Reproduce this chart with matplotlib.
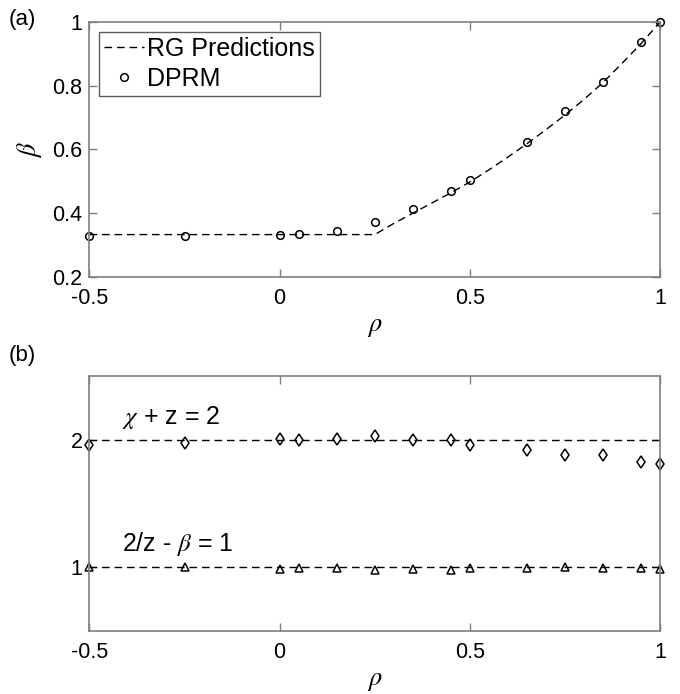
import numpy as np
import matplotlib
matplotlib.use('Agg')
import matplotlib.pyplot as plt

plt.rcParams['font.family'] = ['Liberation Sans', 'DejaVu Sans']
plt.rcParams['mathtext.fontset'] = 'stix'
plt.rcParams['axes.unicode_minus'] = False

# data
rho = [-0.5, -0.25, 0, 0.05, 0.15, 0.25, 0.35, 0.45, 0.5, 0.65, 0.75, 0.85, 0.95, 1.0]
beta_dprm = [0.328, 0.328, 0.333, 0.336, 0.345, 0.374, 0.414, 0.470, 0.504, 0.625, 0.721, 0.811, 0.937, 1.0]

rho_rg = [-0.5, 0.25, 0.30, 0.35, 0.40, 0.45, 0.50, 0.55, 0.60, 0.65, 0.70, 0.75, 0.80, 0.85, 0.90, 0.95, 1.0]
beta_rg = [0.333, 0.333, 0.368, 0.400, 0.432, 0.464, 0.498, 0.536, 0.576, 0.618, 0.662, 0.708, 0.757, 0.810, 0.870, 0.932, 1.0]

chi_plus_z = [1.961, 1.974, 2.005, 2.0, 2.005, 2.026, 1.995, 2.0, 1.961, 1.916, 1.883, 1.877, 1.822, 1.809]
twoz_minus_beta = [1.005, 1.005, 0.99, 0.997, 0.997, 0.98, 0.99, 0.98, 0.997, 0.997, 1.005, 0.997, 0.997, 0.985]

xticks = [-0.5, 0, 0.5, 1]
xticklabels = ['-0.5', '0', '0.5', '1']

fig = plt.figure(figsize=(6.8, 6.94), dpi=100)
ax1 = fig.add_axes([0.1316, 0.6009, 0.839, 0.3674])
ax2 = fig.add_axes([0.1316, 0.0908, 0.839, 0.3674])

frame = '#7f7f7f'
for ax in (ax1, ax2):
    for s in ax.spines.values():
        s.set_color(frame)
        s.set_linewidth(1.2)
    ax.tick_params(direction='in', top=True, right=True, length=6, width=1,
                   color=frame, labelsize=15.5)
    ax.tick_params(axis='x', pad=8)
    ax.tick_params(axis='y', pad=5)
    ax.set_xlim(-0.5, 1)
    ax.set_xticks(xticks)
    ax.set_xticklabels(xticklabels)
    ax.set_xlabel(r'$\rho$', fontsize=19, labelpad=4)

dash = (0, (5.5, 3.5))
ax1.plot(rho_rg, beta_rg, color='k', lw=1, linestyle=dash, label='RG Predictions', clip_on=False)
ax1.plot(rho, beta_dprm, 'o', ms=5.5, mfc='none', mec='k', mew=1.1, label='DPRM', clip_on=False)
ax1.set_ylim(0.2, 1)
ax1.set_yticks([0.2, 0.4, 0.6, 0.8, 1])
ax1.set_yticklabels(['0.2', '0.4', '0.6', '0.8', '1'])
ax1.set_ylabel(r'$\beta$', fontsize=19, labelpad=6)
leg = ax1.legend(loc='upper left', fontsize=18, frameon=True, fancybox=False,
                 edgecolor='#333333', handlelength=1.6, handletextpad=0.1,
                 borderpad=0.2, labelspacing=0.25, borderaxespad=0.4)
leg.get_frame().set_linewidth(1)

ax2.axhline(2, color='k', lw=1, linestyle=dash)
ax2.axhline(1, color='k', lw=1, linestyle=dash)
ax2.plot(rho, chi_plus_z, 'd', ms=6.5, mfc='none', mec='k', mew=1.1, clip_on=False)
ax2.plot(rho, twoz_minus_beta, '^', ms=6, mfc='none', mec='k', mew=1.1, clip_on=False)
ax2.set_ylim(0.5, 2.5)
ax2.set_yticks([1, 2])
ax2.set_yticklabels(['1', '2'])
ax2.text(-0.414, 2.12, r'$\chi$ + z = 2', fontsize=18)
ax2.text(-0.414, 1.125, r'2/z - $\beta$ = 1', fontsize=18)

fig.text(0.012, 0.972, '(a)', fontsize=16, va='center')
fig.text(0.012, 0.488, '(b)', fontsize=16, va='center')

fig.savefig('out.png', dpi=100)
